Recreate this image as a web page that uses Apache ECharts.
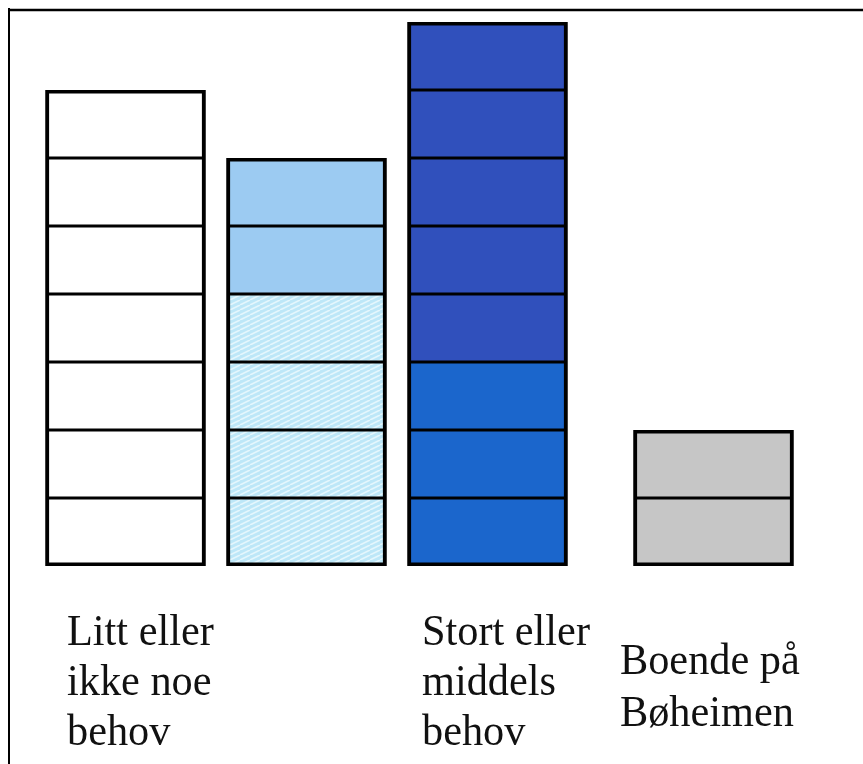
<!DOCTYPE html>
<html><head><meta charset="utf-8">
<script src="https://cdn.jsdelivr.net/npm/echarts@6/dist/echarts.min.js"></script>
<style>html,body{margin:0;padding:0;background:#fff}#c{width:863px;height:764px}</style>
</head><body><div id="c"></div>
<script>
// Column labels
const categories = ['Litt eller\nikke noe\nbehov', '', 'Stort eller\nmiddels\nbehov', 'Boende på\nBøheimen'];
// Number of unit blocks per column, by fill type (stacked bottom-up in this order)
const whiteBlocks   = [7, 0, 0, 0];
const hatchedBlocks = [0, 4, 0, 0];
const lightBlocks   = [0, 2, 0, 0];
const mediumBlocks  = [0, 0, 3, 0];
const darkBlocks    = [0, 0, 5, 0];
const grayBlocks    = [0, 0, 0, 2];

// hatch pattern
const pc = document.createElement('canvas');
pc.width = 10; pc.height = 5;
const px = pc.getContext('2d');
px.fillStyle = '#bde7f8'; px.fillRect(0, 0, 10, 5);
px.strokeStyle = '#e4f6fd'; px.lineWidth = 1.6;
[[-10, 5, 0, 0], [0, 5, 10, 0], [10, 5, 20, 0]].forEach(l => { px.beginPath(); px.moveTo(l[0], l[1]); px.lineTo(l[2], l[3]); px.stroke(); });

const fills = {
  white: '#ffffff',
  hatched: { image: pc, repeat: 'repeat' },
  light: '#9ccbf2',
  medium: '#1b66cc',
  dark: '#3050bc',
  gray: '#c6c6c6'
};
const order = [['white', whiteBlocks], ['hatched', hatchedBlocks], ['light', lightBlocks],
               ['medium', mediumBlocks], ['dark', darkBlocks], ['gray', grayBlocks]];
const columns = categories.map((c, i) => {
  const seq = [];
  order.forEach(([t, arr]) => { for (let k = 0; k < arr[i]; k++) seq.push(t); });
  return seq;
});
const colGrid = [0, 0, 0, 1];
const maxLevel = Math.max(...columns.map(s => s.length));

const gridTop = 22, gridBottom = 198;
const grids = [
  { left: 35, width: 543, top: gridTop, bottom: gridBottom },
  { left: 623, width: 181, top: gridTop, bottom: gridBottom }
];
const xAxes = [], yAxes = [], series = [];
grids.forEach((g, gi) => {
  const idx = categories.map((c, i) => i).filter(i => colGrid[i] === gi);
  xAxes.push({ type: 'category', gridIndex: gi, data: idx.map(i => categories[i]), show: false });
  yAxes.push({ type: 'value', gridIndex: gi, min: 0, max: 8, show: false });
  for (let k = 0; k < maxLevel; k++) {
    series.push({
      type: 'bar', xAxisIndex: gi, yAxisIndex: gi, stack: 's' + gi, barWidth: 160, barGap: '-100%',
      silent: true, animation: false,
      data: idx.map(i => k < columns[i].length
        ? { value: 1, itemStyle: { color: fills[columns[i][k]], borderColor: '#000', borderWidth: 1.6 } }
        : '-')
    });
  }
  // outer outline of each column
  series.push({
    type: 'bar', xAxisIndex: gi, yAxisIndex: gi, barWidth: 160, barGap: '-100%', z: 3,
    silent: true, animation: false,
    itemStyle: { color: 'rgba(0,0,0,0)', borderColor: '#000', borderWidth: 3.6 },
    data: idx.map(i => columns[i].length)
  });
});

const chart = echarts.init(document.getElementById('c'), null, { renderer: 'canvas' });
chart.setOption({
  backgroundColor: '#fff',
  animation: false,
  grid: grids, xAxis: xAxes, yAxis: yAxes, series: series
});

// Labels under the columns, left-aligned blocks of text
const labelShift = [21.5, 0, 14.5, -13.5];   // from the bar's left edge
const labelTop = [608, 0, 608, 636];
const labelLH = [50, 50, 50, 52];
const graphics = [];
categories.forEach((c, i) => {
  if (!c) return;
  const gi = colGrid[i];
  const local = categories.map((cc, j) => j).filter(j => colGrid[j] === gi).indexOf(i);
  const cx = chart.convertToPixel({ xAxisIndex: gi }, local);
  graphics.push({
    type: 'text', x: cx - 80 + labelShift[i], y: labelTop[i], scaleX: 0.94, silent: true,
    style: { text: c, fill: '#111', font: '45px "Liberation Serif", "Times New Roman", serif',
             lineHeight: labelLH[i], align: 'left', verticalAlign: 'top' }
  });
});
graphics.push({ type: 'line', silent: true, shape: { x1: 9, y1: 8, x2: 9, y2: 764 }, style: { stroke: '#000', lineWidth: 2 } });
graphics.push({ type: 'line', silent: true, shape: { x1: 8, y1: 10, x2: 863, y2: 10 }, style: { stroke: '#000', lineWidth: 2.5 } });
chart.setOption({ graphic: graphics });
</script>
</body></html>
